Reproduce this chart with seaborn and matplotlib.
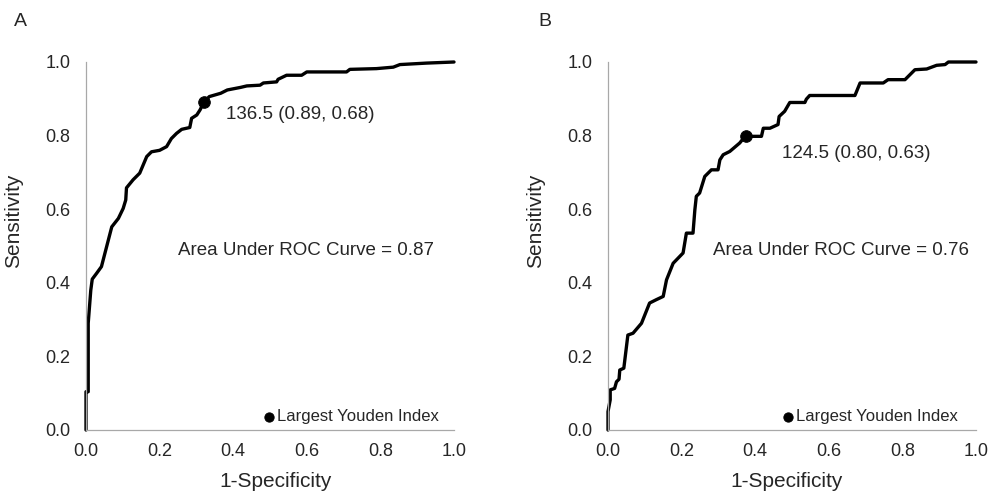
import numpy as np
import matplotlib
matplotlib.use('Agg')
import matplotlib.pyplot as plt
import seaborn as sns

# ROC curve A (1-specificity, sensitivity)
fpr_a = [0.0, 0.0, 0.006, 0.006, 0.013, 0.017, 0.029, 0.042, 0.056, 0.07, 0.088, 0.101, 0.108,
         0.11, 0.128, 0.146, 0.165, 0.178, 0.2, 0.219, 0.232, 0.246, 0.26, 0.282, 0.287, 0.301,
         0.31, 0.32, 0.335, 0.366, 0.384, 0.42, 0.437, 0.473, 0.482, 0.518, 0.522, 0.545, 0.586,
         0.6, 0.708, 0.717, 0.789, 0.835, 0.853, 0.925, 1.0]
tpr_a = [0.0, 0.104, 0.104, 0.29, 0.38, 0.41, 0.426, 0.444, 0.498, 0.552, 0.575, 0.602, 0.625,
         0.658, 0.68, 0.698, 0.743, 0.756, 0.76, 0.77, 0.792, 0.806, 0.817, 0.822, 0.847, 0.856,
         0.87, 0.89, 0.906, 0.915, 0.924, 0.931, 0.935, 0.937, 0.943, 0.946, 0.953, 0.964, 0.964,
         0.973, 0.973, 0.98, 0.982, 0.986, 0.993, 0.997, 1.0]

# ROC curve B
fpr_b = [0.0, 0.0, 0.006, 0.006, 0.018, 0.023, 0.03, 0.032, 0.043, 0.054, 0.068, 0.091, 0.113,
         0.131, 0.15, 0.159, 0.177, 0.204, 0.213, 0.231, 0.236, 0.24, 0.249, 0.263, 0.281, 0.299,
         0.304, 0.313, 0.331, 0.358, 0.374, 0.385, 0.417, 0.422, 0.44, 0.462, 0.465, 0.48, 0.494,
         0.535, 0.539, 0.548, 0.671, 0.685, 0.748, 0.761, 0.807, 0.834, 0.866, 0.893, 0.916,
         0.925, 1.0]
tpr_b = [0.0, 0.05, 0.082, 0.109, 0.113, 0.131, 0.138, 0.163, 0.168, 0.258, 0.263, 0.29, 0.345,
         0.354, 0.363, 0.408, 0.453, 0.481, 0.535, 0.535, 0.598, 0.635, 0.644, 0.689, 0.707, 0.707,
         0.734, 0.748, 0.757, 0.78, 0.80, 0.798, 0.798, 0.82, 0.82, 0.83, 0.852, 0.866, 0.89,
         0.89, 0.899, 0.909, 0.909, 0.943, 0.943, 0.952, 0.952, 0.979, 0.981, 0.991, 0.993,
         1.0, 1.0]

youden_a = (0.32, 0.89)
youden_b = (0.374, 0.80)
cut_labels = ['136.5 (0.89, 0.68)', '124.5 (0.80, 0.63)']
auc_labels = ['Area Under ROC Curve = 0.87', 'Area Under ROC Curve = 0.76']
panel_names = ['A', 'B']
ticks = [0.0, 0.2, 0.4, 0.6, 0.8, 1.0]

sns.set_style('white')
plt.rcParams['font.family'] = ['Liberation Sans', 'DejaVu Sans']

fig = plt.figure(figsize=(10.03, 4.96), dpi=100)
ax_a = fig.add_axes([86 / 1003, 66 / 496, 368 / 1003, 368 / 496])
ax_b = fig.add_axes([608 / 1003, 66 / 496, 368 / 1003, 368 / 496])

panels = [
    (ax_a, fpr_a, tpr_a, youden_a, (0.38, 0.856), (0.249, 0.487), (0.514, -0.115), (0.96, 0.016)),
    (ax_b, fpr_b, tpr_b, youden_b, (0.474, 0.752), (0.286, 0.488), (0.486, -0.115), (0.952, 0.016)),
]

for i, (ax, fx, ty, yd, cut_pos, auc_pos, xl_pos, leg_pos) in enumerate(panels):
    sns.lineplot(x=fx, y=ty, sort=False, estimator=None, color='black', lw=2.4,
                 ax=ax, clip_on=False)
    sns.scatterplot(x=[yd[0]], y=[yd[1]], s=70, color='black', edgecolor='black',
                    label='Largest Youden Index', ax=ax, zorder=5, clip_on=False)
    ax.set_xlim(0, 1)
    ax.set_ylim(0, 1)
    ax.set_xticks(ticks)
    ax.set_yticks(ticks)
    ax.set_xticklabels([f'{t:.1f}' for t in ticks], fontsize=13)
    ax.set_yticklabels([f'{t:.1f}' for t in ticks], fontsize=13)
    ax.tick_params(axis='x', length=0, pad=9)
    ax.tick_params(axis='y', length=0, pad=11)
    for s in ['top', 'right']:
        ax.spines[s].set_visible(False)
    for s in ['left', 'bottom']:
        ax.spines[s].set_color('#a8a8a8')
        ax.spines[s].set_linewidth(0.9)
    ax.set_xlabel('1-Specificity', fontsize=15)
    ax.set_ylabel('Sensitivity', fontsize=15)
    ax.xaxis.set_label_coords(*xl_pos)
    ax.yaxis.set_label_coords(-0.171, 0.568)
    ax.text(cut_pos[0], cut_pos[1], cut_labels[i], fontsize=13.5, va='center', ha='left',
            transform=ax.transAxes)
    ax.text(auc_pos[0], auc_pos[1], auc_labels[i], fontsize=13.5, va='center', ha='left',
            transform=ax.transAxes)
    ax.legend(loc='lower right', bbox_to_anchor=leg_pos, frameon=False, fontsize=12,
              borderpad=0, borderaxespad=0, handletextpad=0.1, handlelength=0.8,
              markerscale=0.8)

fig.text(14 / 1003, 1 - 22 / 496, panel_names[0], fontsize=14, va='center', ha='left')
fig.text(538 / 1003, 1 - 22 / 496, panel_names[1], fontsize=14, va='center', ha='left')

plt.savefig('out.png', dpi=100)
